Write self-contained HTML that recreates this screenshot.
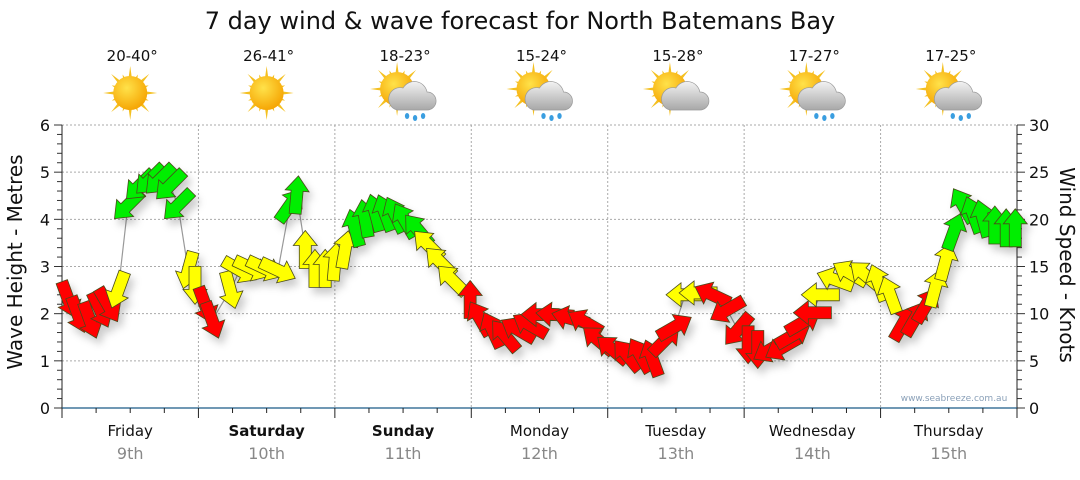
<!DOCTYPE html>
<html><head><meta charset="utf-8"><style>
body{margin:0;background:#fff;width:1080px;height:475px;overflow:hidden;font-family:"Liberation Sans",sans-serif}
svg text{font-family:"DejaVu Sans","Liberation Sans",sans-serif}
</style></head><body>
<svg id="chart" width="1080" height="475" xmlns="http://www.w3.org/2000/svg">
<defs>
<radialGradient id="sunG" cx="0.4" cy="0.35" r="0.7"><stop offset="0" stop-color="#ffe24a"/><stop offset="1" stop-color="#f5a200"/></radialGradient>
<linearGradient id="cloudG" x1="0" y1="0" x2="0" y2="1"><stop offset="0" stop-color="#f2f2f2"/><stop offset="1" stop-color="#a8a8a8"/></linearGradient>
<filter id="sh" x="-50%" y="-50%" width="200%" height="200%"><feDropShadow dx="4" dy="6" stdDeviation="4" flood-color="#000" flood-opacity="0.2"/></filter>
</defs>
<text x="520" y="29" text-anchor="middle" font-size="24" fill="#111">7 day wind &amp; wave forecast for North Batemans Bay</text>
<g id="grid"></g>
<g id="axes"></g>
<g id="icons"></g>
<polyline id="conn" fill="none" stroke="#999" stroke-width="1.2"/>
<g id="arrows" filter="url(#sh)"></g>
<text x="954" y="401" text-anchor="middle" font-size="9" fill="#8aa0b8">www.seabreeze.com.au</text>
<text transform="translate(22,262) rotate(-90)" text-anchor="middle" font-size="20" fill="#111">Wave Height - Metres</text>
<text transform="translate(1060,265) rotate(90)" text-anchor="middle" font-size="20" fill="#111">Wind Speed - Knots</text>
</svg>
<script>
const days=["Friday","Saturday","Sunday","Monday","Tuesday","Wednesday","Thursday"];
const dates=["9th","10th","11th","12th","13th","14th","15th"];
const boldDays=[false,true,true,false,false,false,false];
const temps=["20-40°","26-41°","18-23°","15-24°","15-28°","17-27°","17-25°"];
const weather=["sun","sun","rain","rain","cloud","rain","rain"];
const metreTicks=[0,1,2,3,4,5,6];
const knotTicks=[0,5,10,15,20,25,30];
const hours=[1.1,2.8,4.9,6.7,8.1,9.9,11.6,13.7,15.5,17.2,19.0,20.4,22.2,23.4,25.2,26.4,29.6,31.3,33.4,35.7,38.0,40.1,41.3,42.8,44.5,46.3,48.0,49.8,51.5,53.3,55.1,56.8,58.6,60.3,62.6,64.4,66.5,68.6,71.8,73.5,75.7,77.9,80.2,82.3,84.1,86.7,89.4,92.0,94.3,96.8,99.4,101.7,103.8,106.1,107.8,109.6,111.9,114.4,117.0,118.9,120.7,122.4,124.6,126.7,128.6,130.4,132.0,133.4,136.0,138.6,141.3,143.6,145.7,148.0,150.1,152.0,153.6,155.4,156.9,158.5,160.3,162.0,164.1,166.1,167.7];
const knots=[11.5,9.9,9.3,10.4,10.9,12.5,21.5,23.6,24.2,24.2,23.6,21.5,14.6,13.0,10.9,9.3,12.5,14.6,14.8,14.8,14.6,21.5,22.6,16.8,14.8,14.8,15.5,16.8,19.1,20.1,20.7,20.7,20.5,19.9,18.9,17.3,15.5,13.6,11.5,9.5,8.3,7.7,8.3,8.8,9.9,9.9,9.5,9.1,7.2,6.2,5.6,5.6,5.3,7.2,8.6,12.0,12.2,12.0,10.4,8.3,6.7,6.2,6.2,6.4,7.7,9.1,10.1,12.0,13.6,14.3,14.1,13.3,12.0,9.0,9.5,10.9,12.7,15.5,18.7,21.5,20.5,20.1,19.4,19.1,19.1];
const dirs=[160,160,160,155,150,200,225,225,225,225,225,225,195,180,160,160,165,120,115,115,115,35,5,0,0,0,5,10,345,350,345,340,335,330,320,315,315,315,0,330,335,320,300,300,270,275,285,300,310,310,320,330,340,45,60,270,270,295,240,220,180,180,240,240,60,60,270,270,290,300,310,340,340,30,30,30,15,15,20,330,340,345,0,0,0];
const colours=["r","r","r","r","r","y","g","g","g","g","g","g","y","y","r","r","y","y","y","y","y","g","g","y","y","y","y","y","g","g","g","g","g","g","g","y","y","y","r","r","r","r","r","r","r","r","r","r","r","r","r","r","r","r","r","y","y","r","r","r","r","r","r","r","r","r","r","y","y","y","y","y","y","r","r","r","y","y","g","g","g","g","g","g","g"];

const NS="http://www.w3.org/2000/svg";
const X0=62,X1=1017,Y0=408,Y1=125;
const xH=h=>X0+(X1-X0)*h/168;
const yM=m=>Y0-(Y0-Y1)*m/6;
const yK=k=>Y0-(Y0-Y1)*k/30;
function mk(tag,attrs,parent){const e=document.createElementNS(NS,tag);for(const k in attrs)e.setAttribute(k,attrs[k]);parent.appendChild(e);return e;}
const grid=document.getElementById('grid'),axes=document.getElementById('axes'),icons=document.getElementById('icons');
metreTicks.forEach(m=>{if(m>0){const l=mk('line',{x1:X0,x2:X1,y1:yM(m),y2:yM(m),stroke:'#aaa','stroke-dasharray':'2,2'},grid);

}
const t=mk('text',{x:50,y:yM(m)+6,'text-anchor':'end','font-size':16,fill:'#111'},axes);t.textContent=m;

});
for(let i=0;i<=30;i++){const y=yM(i/5);mk('line',{x1:X0-(i%5==0?8:5),x2:X0,y1:y,y2:y,stroke:'#333'},axes);}
for(let k=0;k<=30;k++){const y=yK(k);mk('line',{x1:X1,x2:X1+(k%5==0?8:5),y1:y,y2:y,stroke:'#333'},axes);}
knotTicks.forEach(k=>{const t=mk('text',{x:1029,y:yK(k)+6,'font-size':16,fill:'#111'},axes);t.textContent=k;

});
mk('line',{x1:X0,x2:X0,y1:Y1,y2:Y0,stroke:'#222'},axes);
mk('line',{x1:X1,x2:X1,y1:Y1,y2:Y0,stroke:'#222'},axes);
mk('line',{x1:X0,x2:X1,y1:Y0,y2:Y0,stroke:'#1b5a86','stroke-width':1.3},axes);
for(let h=0;h<=168;h+=6){mk('line',{x1:xH(h),x2:xH(h),y1:Y0,y2:Y0+(h%24==0?10:5),stroke:'#222'},axes);}
days.forEach((d,i)=>{
 const cx=xH(i*24+12);
 if(i>0){const l=mk('line',{x1:xH(i*24),x2:xH(i*24),y1:Y1,y2:Y0,stroke:'#aaa','stroke-dasharray':'2,2'},grid);
 
 }
 const t=mk('text',{x:cx,y:436,'text-anchor':'middle','font-size':15,fill:'#111','font-weight':boldDays[i]?'bold':'normal'},axes);t.textContent=d;
 
 
 const t2=mk('text',{x:cx,y:459,'text-anchor':'middle','font-size':16,fill:'#888'},axes);t2.textContent=dates[i];
 
 
 const t3=mk('text',{x:cx+2,y:61,'text-anchor':'middle','font-size':15,fill:'#111'},icons);t3.textContent=temps[i];
 
 
 const g=mk('g',{transform:`translate(${cx},93)`},icons);
 
 
 const sx=weather[i]=='sun'?0:-6,sy=weather[i]=='sun'?0:-4;
 for(let a=0;a<16;a++){const ang=a*Math.PI/8,r=a%2?20:27;
  mk('polygon',{points:`${sx+Math.cos(ang-0.15)*13},${sy+Math.sin(ang-0.15)*13} ${sx+Math.cos(ang)*r},${sy+Math.sin(ang)*r} ${sx+Math.cos(ang+0.15)*13},${sy+Math.sin(ang+0.15)*13}`,fill:'#f4c020'},g);}
 mk('circle',{cx:sx,cy:sy,r:17,fill:'url(#sunG)'},g);
 if(weather[i]!='sun'){
  mk('path',{d:'M-6,17 h30 a9,9 0 0 0 0,-18 a13,13 0 0 0 -24,-4 a10,10 0 0 0 -6,22z',fill:'url(#cloudG)',stroke:'#999','stroke-width':0.7},g);
  if(weather[i]=='rain'){[[4,23],[12,25],[20,23]].forEach(p=>mk('ellipse',{cx:p[0],cy:p[1],rx:2.2,ry:3,fill:'#3a9ee0'},g));}
 }
});
const col={r:'#ff0000',y:'#ffff00',g:'#00ee00'};
const arrowsG=document.getElementById('arrows');
document.getElementById('conn').setAttribute('points',hours.map((h,i)=>`${xH(h)},${yK(knots[i])}`).join(' '));
hours.forEach((h,i)=>{
 const p=mk('polygon',{points:'0,-19 12,-4 6,-4 6,19 -6,19 -6,-4 -12,-4',fill:col[colours[i]],stroke:'#4a4a1a','stroke-width':0.8,transform:`translate(${xH(h)},${yK(knots[i])}) rotate(${dirs[i]})`},arrowsG);
 
 
});
</script>
</body></html>
